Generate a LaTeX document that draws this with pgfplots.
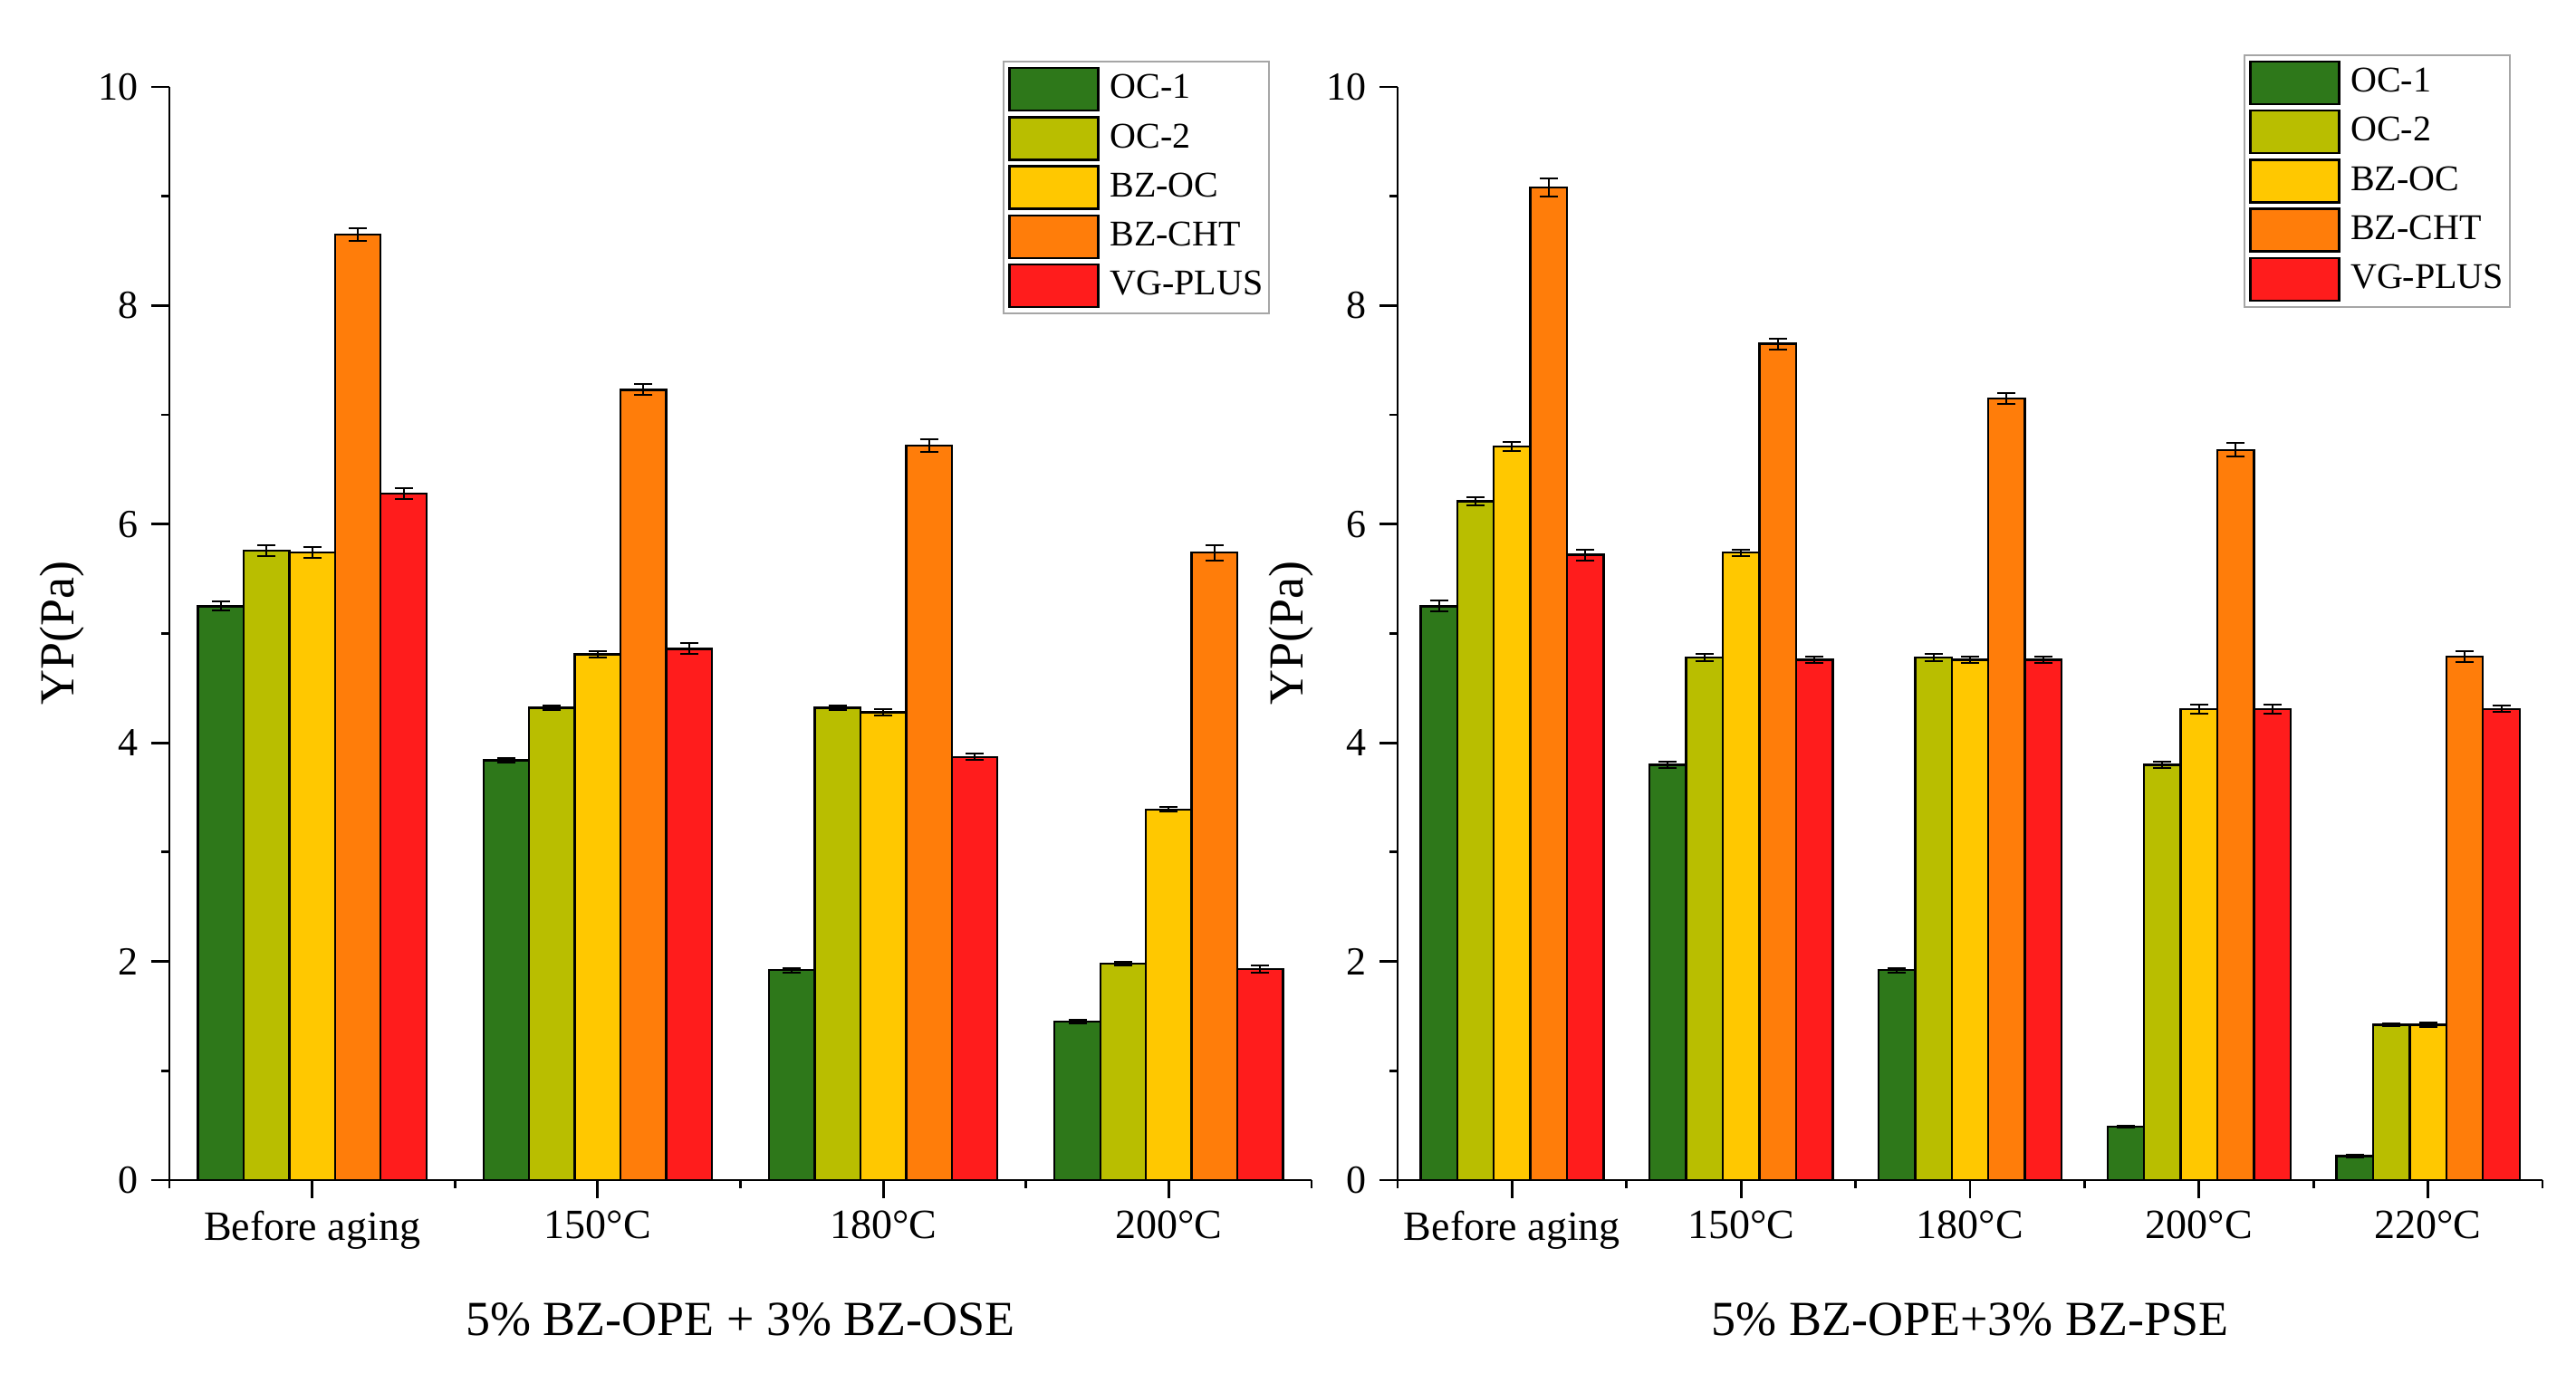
\documentclass[border=0pt]{standalone}
\usepackage{fontspec}
\setmainfont{Liberation Serif}
\usepackage{pgfplots}
\pgfplotsset{compat=1.18}

\definecolor{oca}{RGB}{46,120,26}
\definecolor{ocb}{RGB}{185,190,0}
\definecolor{bzoc}{RGB}{255,200,0}
\definecolor{bzcht}{RGB}{255,125,10}
\definecolor{vgp}{RGB}{255,28,28}

\pgfplotsset{
  ybar legend/.style={legend image code/.code={%
    \draw[##1,line width=0.6pt] (0pt,-5.875pt) rectangle (24.5pt,5.875pt);}},
  yp/.style={
    scale only axis,
    height=301.75pt,
    ybar=0pt, bar width=0.16,
    axis lines*=left,
    axis line style={line width=0.7pt},
    tick align=outside,
    major tick length=5pt, minor tick length=2.25pt,
    tick style={line width=0.7pt,black},
    ymin=0, ymax=10,
    ytick={0,2,...,10}, minor ytick={1,3,...,9},
    enlarge x limits=false,
    /pgf/number format/assume math mode=true,
    yticklabel style={font=\fontsize{11}{13}\selectfont},
    xticklabel style={font=\fontsize{11.5}{13}\selectfont},
    ylabel={YP(Pa)},
    ylabel style={font=\fontsize{13.5}{16}\selectfont,
      at={(axis description cs:0,0.5)}, anchor=center, yshift=29.5pt},
    xlabel style={font=\fontsize{13.5}{16}\selectfont,
      at={(axis description cs:0.5,0)}, anchor=center, yshift=-38.5pt},
    error bars/y dir=both, error bars/y explicit,
    error bars/error bar style={black,line width=0.5pt},
    error bars/error mark options={black,rotate=90,mark size=2.5pt,line width=0.5pt},
    every axis plot/.append style={draw=black,line width=0.6pt},
    legend cell align=left,
    legend style={anchor=north east, draw=gray!70, line width=0.5pt,
      fill=white, font=\fontsize{10}{12}\selectfont,
      inner xsep=1.25pt, inner ysep=1.5pt, row sep=1.2pt, column sep=2.5pt,
      nodes={inner sep=0.4pt}},
  },
}

\begin{document}
\begin{tikzpicture}
\path[use as bounding box] (-46.75pt,-53.25pt) rectangle (664.25pt,325.75pt);

\begin{axis}[
yp,
name=left,
width=315.25pt,
xmin=-0.5, xmax=3.5,
xtick={0,1,2,3},
xticklabels={Before aging,150\textdegree C,180\textdegree C,200\textdegree C},
minor xtick={-0.5,0.5,...,3.5},
xlabel={5\% BZ-OPE + 3\% BZ-OSE},
legend style={at={(0.9635,1.024)}},
]
\addplot[fill=oca] coordinates {
(0,5.25) +- (0,0.04)
(1,3.84) +- (0,0.02)
(2,1.92) +- (0,0.02)
(3,1.45) +- (0,0.02)
};
\addplot[fill=ocb] coordinates {
(0,5.76) +- (0,0.05)
(1,4.32) +- (0,0.02)
(2,4.32) +- (0,0.02)
(3,1.98) +- (0,0.02)
};
\addplot[fill=bzoc] coordinates {
(0,5.74) +- (0,0.05)
(1,4.81) +- (0,0.03)
(2,4.28) +- (0,0.03)
(3,3.39) +- (0,0.02)
};
\addplot[fill=bzcht] coordinates {
(0,8.65) +- (0,0.06)
(1,7.23) +- (0,0.05)
(2,6.72) +- (0,0.06)
(3,5.74) +- (0,0.07)
};
\addplot[fill=vgp] coordinates {
(0,6.28) +- (0,0.05)
(1,4.86) +- (0,0.05)
(2,3.87) +- (0,0.03)
(3,1.93) +- (0,0.03)
};
\legend{OC-1,OC-2,BZ-OC,BZ-CHT,VG-PLUS}
\end{axis}

\begin{axis}[
yp,
at={(339pt,0pt)},
width=316pt,
xmin=-0.5, xmax=4.5,
xtick={0,1,2,3,4},
xticklabels={Before aging,150\textdegree C,180\textdegree C,200\textdegree C,220\textdegree C},
minor xtick={-0.5,0.5,...,4.5},
xlabel={5\% BZ-OPE+3\% BZ-PSE},
legend style={at={(0.972,1.03)}},
]
\addplot[fill=oca] coordinates {
(0,5.25) +- (0,0.05)
(1,3.80) +- (0,0.03)
(2,1.92) +- (0,0.02)
(3,0.49) +- (0,0.01)
(4,0.22) +- (0,0.01)
};
\addplot[fill=ocb] coordinates {
(0,6.21) +- (0,0.04)
(1,4.78) +- (0,0.03)
(2,4.78) +- (0,0.03)
(3,3.80) +- (0,0.03)
(4,1.42) +- (0,0.01)
};
\addplot[fill=bzoc] coordinates {
(0,6.71) +- (0,0.04)
(1,5.74) +- (0,0.03)
(2,4.76) +- (0,0.03)
(3,4.31) +- (0,0.04)
(4,1.42) +- (0,0.02)
};
\addplot[fill=bzcht] coordinates {
(0,9.08) +- (0,0.08)
(1,7.65) +- (0,0.05)
(2,7.15) +- (0,0.05)
(3,6.68) +- (0,0.06)
(4,4.79) +- (0,0.05)
};
\addplot[fill=vgp] coordinates {
(0,5.72) +- (0,0.05)
(1,4.76) +- (0,0.03)
(2,4.76) +- (0,0.03)
(3,4.31) +- (0,0.04)
(4,4.31) +- (0,0.03)
};
\legend{OC-1,OC-2,BZ-OC,BZ-CHT,VG-PLUS}
\end{axis}
\end{tikzpicture}
\end{document}
